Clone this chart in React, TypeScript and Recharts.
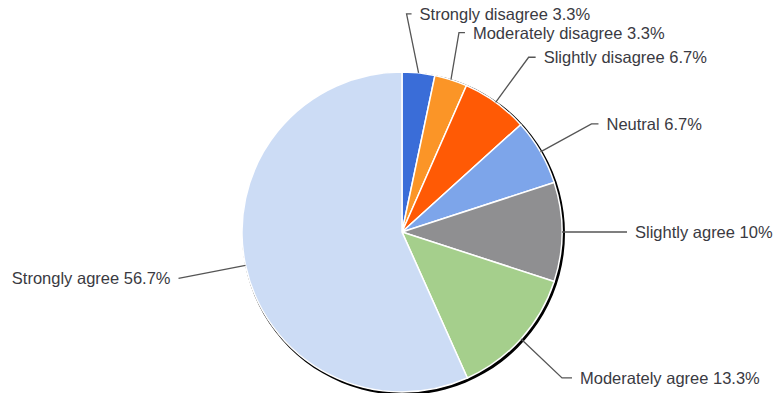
import { Cell, Pie, PieChart } from "recharts";

const categories = [
  "Strongly disagree",
  "Moderately disagree",
  "Slightly disagree",
  "Neutral",
  "Slightly agree",
  "Moderately agree",
  "Strongly agree",
];
const values = [3.3, 3.3, 6.7, 6.7, 10, 13.3, 56.7];
const labels = ["3.3%", "3.3%", "6.7%", "6.7%", "10%", "13.3%", "56.7%"];

const COLORS = ["#3a6dd8", "#fb9527", "#ff5a05", "#7da5ea", "#8f8f91", "#a5cf8c", "#ccdcf5"];

// leader line bends, relative to the slice edge point: [elbow dx, dy, tick length]
const leader: [number, number, number][] = [
  [-12, -59, 5],
  [8, -47, 6],
  [33, -45, 7],
  [51, -28, 7],
  [65, 0, 0],
  [41, 39, 10],
  [-67, 13, 0],
];

const data = categories.map((name, i) => ({ name, value: values[i], pct: labels[i] }));

const RAD = Math.PI / 180;

function renderLabel(props: any) {
  const { cx, cy, midAngle, outerRadius, index } = props;
  const sx = cx + outerRadius * Math.cos(-midAngle * RAD);
  const sy = cy + outerRadius * Math.sin(-midAngle * RAD);
  const [dx, dy, tick] = leader[index];
  const ex = sx + dx;
  const ey = sy + dy;
  const left = dx < 0 && index === data.length - 1;
  const tx = left ? ex - tick : ex + tick;
  const textX = left ? tx - 8 : tx + 8;
  return (
    <g key={`lbl-${index}`}>
      <polyline
        points={`${sx},${sy} ${ex},${ey} ${tx},${ey}`}
        fill="none"
        stroke="#555"
        strokeWidth={1.3}
      />
      <text
        x={textX}
        y={ey}
        dominantBaseline="central"
        textAnchor={left ? "end" : "start"}
        fill="#3a3a42"
        fontSize={16.5}
        fontFamily="Liberation Sans, Arial, sans-serif"
      >
        {`${data[index].name} ${data[index].pct}`}
      </text>
    </g>
  );
}

export default function App() {
  return (
    <div style={{ margin: -8, width: 784, height: 401, background: "#fff" }}>
      <PieChart width={784} height={401} style={{ overflow: "visible" }}>
        <Pie
          data={[{ name: "rim", value: 1 }]}
          dataKey="value"
          cx={398.5}
          cy={228.5}
          outerRadius={161.5}
          fill="#000"
          stroke="none"
          isAnimationActive={false}
        />
        <Pie
          data={data}
          dataKey="value"
          nameKey="name"
          cx={397}
          cy={227}
          outerRadius={160}
          startAngle={90}
          endAngle={-270}
          stroke="#fff"
          strokeWidth={1.5}
          label={renderLabel}
          labelLine={false}
          isAnimationActive={false}
        >
          {data.map((entry, index) => (
            <Cell key={entry.name} fill={COLORS[index % COLORS.length]} />
          ))}
        </Pie>
      </PieChart>
    </div>
  );
}
